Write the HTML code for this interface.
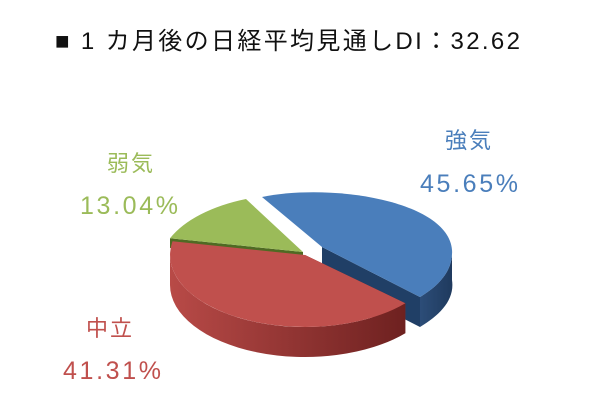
<!DOCTYPE html>
<html><head><meta charset="utf-8"><style>
body{margin:0;background:#fff;width:600px;height:401px;overflow:hidden}
svg{display:block}
text{font-family:"Liberation Sans","Noto Sans CJK JP",sans-serif}
</style></head><body>
<svg width="600" height="401" viewBox="0 0 600 401">
<defs>
<linearGradient id="rs" x1="0" x2="1" y1="0" y2="0">
<stop offset="0" stop-color="#b84a47"/><stop offset="1" stop-color="#6e2120"/></linearGradient>
<linearGradient id="bs" x1="0" x2="1"><stop offset="0" stop-color="#2c4d78"/><stop offset="1" stop-color="#1f3a5e"/></linearGradient>
</defs>
<text x="55" y="49" font-size="24" fill="#111" textLength="465" lengthAdjust="spacing">■ 1 カ月後の日経平均見通しDI：32.62</text>
<!-- green -->
<path d="M303,252 L170,238.3 L170,248 L303,262 Z" fill="#4f6a23"/>
<path d="M303,252 L170,238.3 A135,72 0 0 1 246,199 Z" fill="#9bbb59"/>
<!-- blue -->
<path d="M322,247 L420,297 L420,327 L322,277 Z" fill="#203f66"/>
<path d="M452,250 C453,270 440,285 420,297 L420,327 C440,315 455,300 452,280 Z" fill="url(#bs)"/>
<path d="M322,247 L262,197 C330,183 448,200 452,250 C453,270 440,285 420,297 Z" fill="#4a7ebb"/>
<!-- red -->
<path d="M305,255 L405.3,303.2 L405.3,333.2 L305,285 Z" fill="#8a2e2c"/>
<path d="M405.3,303.2 A135,72 0 0 1 170,255 L170,285 A135,72 0 0 0 405.3,333.2 Z" fill="url(#rs)"/>
<path d="M305,255 L405.3,303.2 A135,72 0 0 1 172.5,241.3 Z" fill="#c0504d"/>
<text x="445" y="148" font-size="22" fill="#4a7ebb" textLength="46">強気</text>
<text x="420" y="192" font-size="25" fill="#4a7ebb" textLength="98" lengthAdjust="spacing">45.65%</text>
<text x="107" y="171" font-size="22" fill="#9bbb59" textLength="46">弱気</text>
<text x="80" y="214" font-size="25" fill="#9bbb59" textLength="98" lengthAdjust="spacing">13.04%</text>
<text x="86" y="336" font-size="22" fill="#c0504d" textLength="46">中立</text>
<text x="63" y="379" font-size="25" fill="#c0504d" textLength="98" lengthAdjust="spacing">41.31%</text>
</svg>
</body></html>
